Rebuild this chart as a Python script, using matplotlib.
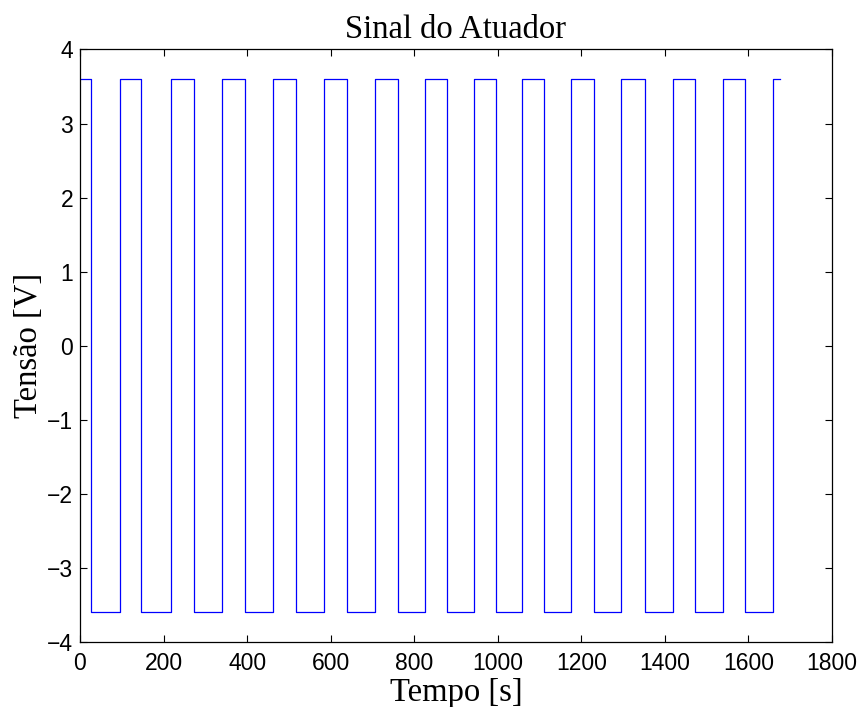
import numpy as np
import matplotlib
matplotlib.use("Agg")
import matplotlib.pyplot as plt

# switching instants [s]
t_switch = [0, 26, 96, 147, 219, 274, 341, 394, 463, 518, 585, 638, 706, 761,
            826, 878, 943, 995, 1059, 1111, 1175, 1230, 1295, 1352, 1419, 1473,
            1538, 1592, 1658]
t_end = 1676
level = 3.6

x_ticks = [0, 200, 400, 600, 800, 1000, 1200, 1400, 1600, 1800]
y_ticks = [-4, -3, -2, -1, 0, 1, 2, 3, 4]

t = np.array(t_switch + [t_end], dtype=float)
u = np.array([level if i % 2 == 0 else -level for i in range(len(t_switch))])
u = np.append(u, u[-1])

fig = plt.figure(figsize=(8.61, 7.07), dpi=100)
ax = fig.add_axes([0.0929, 0.0919, 0.8734, 0.8381])
ax.plot(t, u, drawstyle="steps-post", color=(0, 0, 1), linewidth=0.9)

ax.set_xlim(0, 1800)
ax.set_ylim(-4, 4)
ax.set_xticks(x_ticks)
ax.set_yticks(y_ticks)
ax.tick_params(direction="in", top=True, right=True, length=5, width=0.8,
               labelsize=16.5)
ax.tick_params(axis="x", pad=7)
ax.tick_params(axis="y", pad=5)
for lab in ax.get_xticklabels() + ax.get_yticklabels():
    lab.set_family("Liberation Sans")
for s in ax.spines.values():
    s.set_linewidth(0.9)

ax.set_title("Sinal do Atuador", fontsize=23.5, family="Liberation Serif", pad=8.5)
ax.set_xlabel("Tempo [s]", fontsize=23.5, family="Liberation Serif", labelpad=2)
ax.set_ylabel("Tensão [V]", fontsize=23.5, family="Liberation Serif", labelpad=2)

fig.savefig("out.png", dpi=100)
